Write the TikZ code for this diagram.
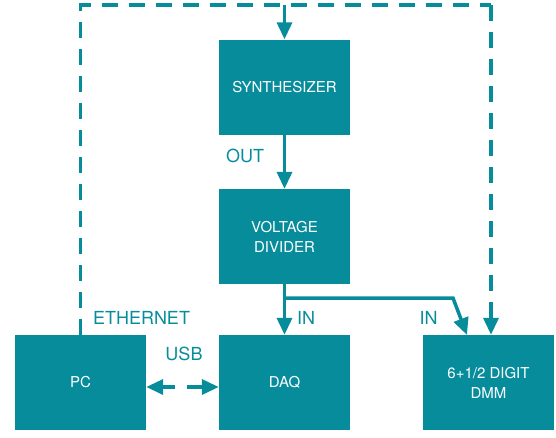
\documentclass[tikz,border=0pt]{standalone}
\usepackage{fontspec}
\setmainfont{TeX Gyre Heros}
\usepackage{tikz}
\usetikzlibrary{arrows.meta,calc}
\definecolor{teal}{RGB}{7,140,156}

\begin{document}
\begin{tikzpicture}[
  x=1pt,y=-1pt,
  box/.style={fill=teal,text=white,font=\fontsize{15}{20}\selectfont,
              minimum width=131pt,minimum height=95pt,inner sep=0pt,
              align=center},
  arr/.style={-{Triangle[length=17pt,width=15pt]},line width=3.5pt,teal},
  link/.style={line width=3.5pt,teal},
  dashlink/.style={line width=3.5pt,teal,dash pattern=on 16pt off 11pt},
  dasharr/.style={dashlink,-{Triangle[length=17pt,width=15pt]}},
  lbl/.style={text=teal,font=\fontsize{18}{20}\selectfont,inner sep=0pt}
]
\useasboundingbox (0,0) rectangle (556,437);

% Entity boxes
\node[box] (synth) at (284.5,87)    {SYNTHESIZER};
\node[box] (vdiv)  at (284.5,236.5) {VOLTAGE\\DIVIDER};
\node[box] (pc)    at (80.5,382.5)  {PC};
\node[box] (daq)   at (284.5,382.5) {DAQ};
\node[box] (dmm)   at (488.5,382.5) {6+1/2 DIGIT\\DMM};

% Ethernet loop
\coordinate (topL) at (80.5,5);
\coordinate (topR) at (491,5);
\draw[dashlink] (pc.north) -- (topL) -- (topR);
\draw[dasharr] (topR) -- (topR |- dmm.north);
\draw[arr] (synth.north |- topL) -- (synth.north);

% Signal path
\draw[arr] (synth) -- (vdiv);
\draw[arr] (vdiv) -- (daq);
\coordinate (split) at (284.5,298);
\coordinate (dmmin) at (467,335);
\draw[arr] (split) -- (453,298) -- (dmmin);

% USB
\draw[link,dash pattern=on 13pt off 12pt on 40pt,
      {Triangle[length=17pt,width=15pt]}-{Triangle[length=17pt,width=15pt]}]
  ([yshift=-4.5pt]pc.east) -- ([yshift=-4.5pt]daq.west);

% Labels
\node[lbl] (out)  at (245,156)   {OUT};
\node[lbl] (eth)  at (141.5,318) {ETHERNET};
\node[lbl] (usb)  at (184,354)   {USB};
\node[lbl] (in1)  at (306,318)   {IN};
\node[lbl] (in2)  at (428.5,318) {IN};

\end{tikzpicture}
\end{document}
